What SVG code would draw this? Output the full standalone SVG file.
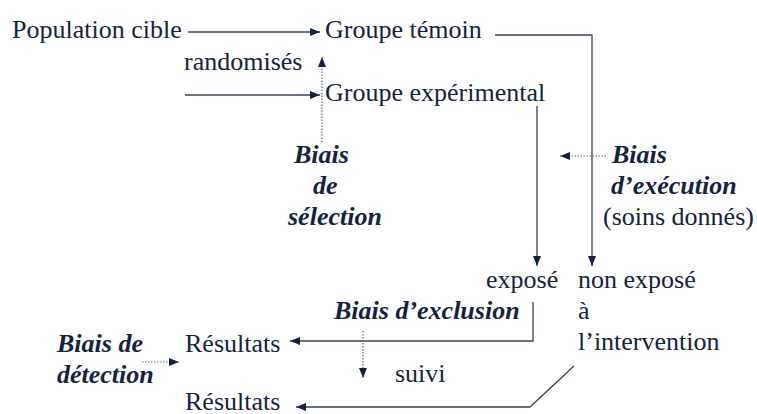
<svg xmlns="http://www.w3.org/2000/svg" width="757" height="414" viewBox="0 0 757 414">
<style>
  text { font-family: 'Liberation Serif', 'Times New Roman', serif; font-size: 26px; fill: #14233d; }
  .b { font-weight: bold; font-style: italic; }
  .ln { fill: none; stroke: #34445c; stroke-width: 1.3; }
  .dot { fill: none; stroke: #5a6a82; stroke-width: 1.2; stroke-dasharray: 1.5 1.5; }
</style>
<defs>
  <marker id="ah" markerUnits="userSpaceOnUse" markerWidth="11" markerHeight="9" refX="10" refY="4" orient="auto">
    <path d="M0,0 L10,4 L0,8 Z" fill="#14233d"/>
  </marker>
</defs>
<rect width="757" height="414" fill="#ffffff"/>
<g id="connectors">
  <path class="ln" d="M188,32 H320" marker-end="url(#ah)"/>
  <path class="ln" d="M185,95 H320" marker-end="url(#ah)"/>
  <path class="ln" d="M495,35 H592 V266" marker-end="url(#ah)"/>
  <path class="ln" d="M537,106 V266" marker-end="url(#ah)"/>
  <path class="dot" d="M322,142 V57" marker-end="url(#ah)"/>
  <path class="dot" d="M606,156 H560" marker-end="url(#ah)"/>
  <path class="ln" d="M533,302 V341 H290" marker-end="url(#ah)"/>
  <path class="dot" d="M142,362 H179" marker-end="url(#ah)"/>
  <path class="dot" d="M363,331 V378" marker-end="url(#ah)"/>
  <path class="ln" d="M574,366 L530,407 H296" marker-end="url(#ah)"/>
</g>
<g id="population"><text x="12" y="38">Population cible</text></g>
<g id="randomises"><text x="184" y="70">randomisés</text></g>
<g id="temoin"><text x="325" y="38">Groupe témoin</text></g>
<g id="experimental"><text x="325" y="101">Groupe expérimental</text></g>
<g id="biais-selection">
  <text class="b" x="294" y="163">Biais</text>
  <text class="b" x="313" y="194">de</text>
  <text class="b" x="288" y="225">sélection</text>
</g>
<g id="biais-execution">
  <text class="b" x="612" y="163">Biais</text>
  <text class="b" x="611" y="194">d’exécution</text>
  <text x="603" y="225">(soins donnés)</text>
</g>
<g id="expose"><text x="486" y="288">exposé</text></g>
<g id="non-expose">
  <text x="578" y="288">non exposé</text>
  <text x="578" y="319">à</text>
  <text x="578" y="350">l’intervention</text>
</g>
<g id="biais-exclusion"><text class="b" x="334" y="319">Biais d’exclusion</text></g>
<g id="resultats1"><text x="185" y="352">Résultats</text></g>
<g id="biais-detection">
  <text class="b" x="57" y="352">Biais de</text>
  <text class="b" x="57" y="383">détection</text>
</g>
<g id="suivi"><text x="395" y="382">suivi</text></g>
<g id="resultats2"><text x="185" y="410">Résultats</text></g>
</svg>
